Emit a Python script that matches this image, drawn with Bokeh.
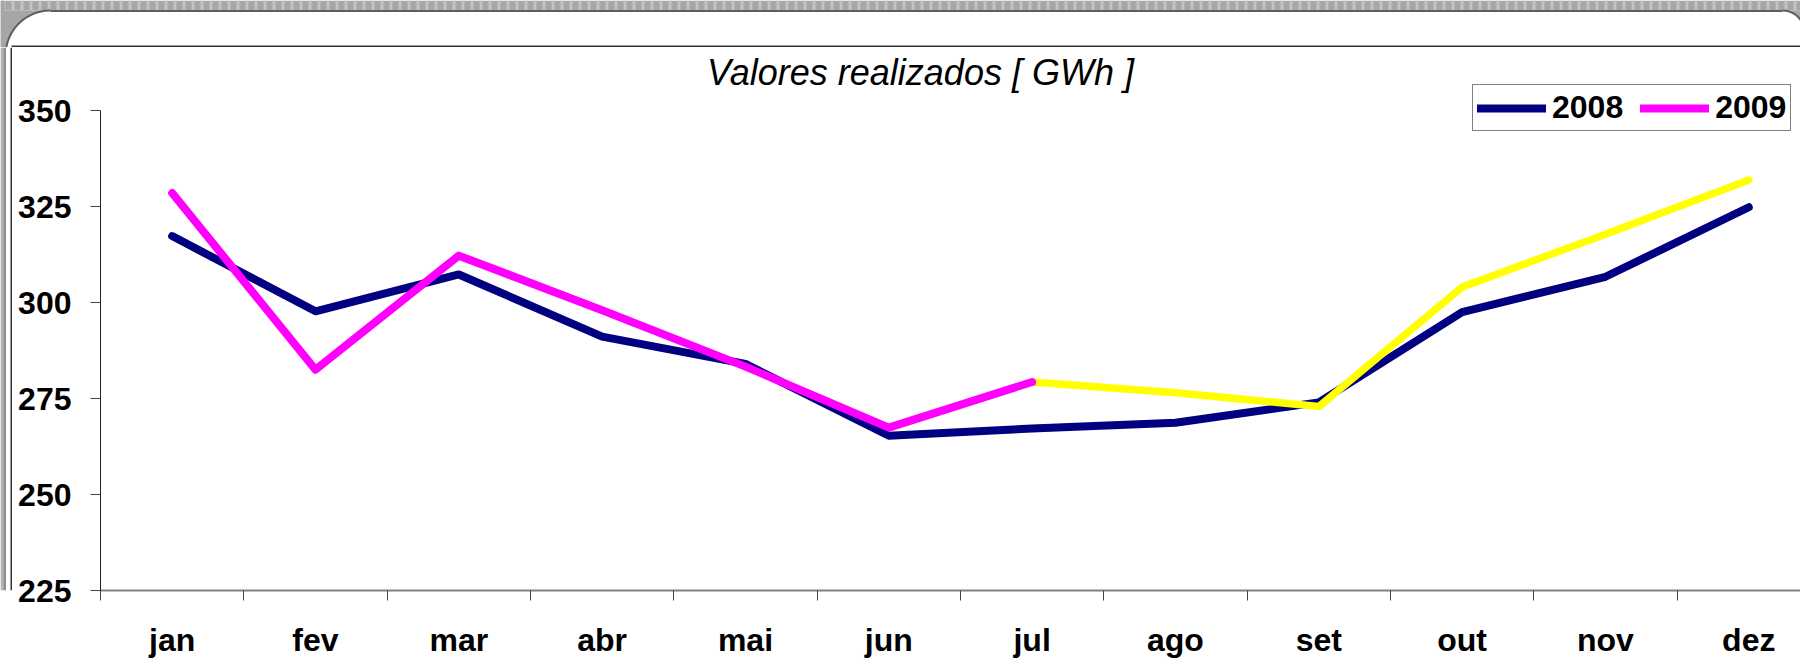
import numpy as np
from bokeh.plotting import figure
from bokeh.layouts import column, row
from bokeh.models import Range1d, FixedTicker, Legend, LegendItem, Label
from bokeh.embed import file_html
from bokeh.resources import INLINE

# ---------------- data ----------------
months = ["jan", "fev", "mar", "abr", "mai", "jun", "jul", "ago", "set", "out", "nov", "dez"]
v2008 = [317.3, 297.7, 307.3, 291.1, 284.0, 265.3, 267.2, 268.7, 274.0, 297.5, 306.7, 324.8]
v2009 = [328.5, 282.5, 312.2, 298.0, 283.3, 267.4, 279.3]
forecast_months = ["jul", "ago", "set", "out", "nov", "dez"]
forecast = [279.3, 276.5, 272.9, 304.0, 317.8, 331.9]
y_ticks = [225, 250, 275, 300, 325, 350]
title_text = "Valores realizados [ GWh ]"
series_names = ["2008", "2009"]

# ---------------- page layout (pixels) ----------------
PAGE_W, PAGE_H = 1800, 665
TOP_H = 47          # decorative top strip
SIDE_W = 12         # decorative left strip
MAIN_W, MAIN_H = PAGE_W - SIDE_W, PAGE_H - TOP_H
AXIS_X = 100        # page x of the y axis
AXIS_Y = 590        # page y of the x axis
Y350_Y = 110        # page y of the 350 tick
TITLE_BASE_Y = 72   # page y used to place the title baseline
PX_PER_MONTH = 143.33
FRAME_H = AXIS_Y - TOP_H
FONT = "Liberation Sans"
GRAY = "#a6a6a6"
GRAY_LIGHT = "#c2c2c2"


def deco_fig(w, h, xr, yr):
    f = figure(width=w, height=h, x_range=xr, y_range=yr, x_axis_type=None,
               y_axis_type=None, toolbar_location=None, output_backend="svg",
               min_border_left=0, min_border_right=0, min_border_top=0,
               min_border_bottom=0)
    f.outline_line_color = None
    f.background_fill_color = "white"
    f.border_fill_color = "white"
    f.grid.visible = False
    return f


# ---------------- top decorative strip ----------------
top = deco_fig(PAGE_W, TOP_H, Range1d(0, PAGE_W), Range1d(TOP_H, 0))
top.quad(left=0, right=PAGE_W, top=0, bottom=10, fill_color=GRAY, line_color=None)
sx = np.arange(0, PAGE_W, 9.0)
top.quad(left=sx + 2, right=sx + 5, top=0, bottom=10, fill_color=GRAY_LIGHT, line_color=None)
# rounded top-left corner
R, CX, CY = 45, 50, 55
th = np.linspace(0, np.pi / 2, 40)
arc_x = CX - R * np.cos(th)
arc_y = CY - R * np.sin(th)
top.patch(np.concatenate([[0], arc_x, [0]]), np.concatenate([[CY], arc_y, [10]]),
          fill_color=GRAY, line_color=None)
top.quad(left=0, right=4, top=0, bottom=TOP_H, fill_color=GRAY, line_color=None)
top.line(arc_x, arc_y, line_color="#5e5e5e", line_width=2)
# rounded top-right corner
R2, CX2, CY2 = 22, 1782, 32
th2 = np.linspace(np.pi / 2, 0, 30)
arc2_x = CX2 + R2 * np.cos(th2)
arc2_y = CY2 - R2 * np.sin(th2)
top.patch(np.concatenate([arc2_x, [PAGE_W + 10, PAGE_W + 10]]),
          np.concatenate([arc2_y, [CY2, 10]]), fill_color=GRAY, line_color=None)
top.line(arc2_x, arc2_y, line_color="#5e5e5e", line_width=2)
top.line([CX, CX2], [10.5, 10.5], line_color="#5e5e5e", line_width=2)
top.line([11, PAGE_W], [46, 46], line_color="#333333", line_width=2)

# ---------------- left decorative strip ----------------
side = deco_fig(SIDE_W, MAIN_H, Range1d(0, SIDE_W), Range1d(PAGE_H, TOP_H))
side.quad(left=0, right=3.5, top=TOP_H, bottom=PAGE_H, fill_color=GRAY, line_color=None)
side.quad(left=1, right=2, top=TOP_H, bottom=PAGE_H, fill_color=GRAY_LIGHT, line_color=None)
side.line([4.5, 4.5], [TOP_H, PAGE_H], line_color="#6a6a6a", line_width=1.5)
side.line([11, 11], [TOP_H, PAGE_H], line_color="#333333", line_width=2)

# ---------------- main chart ----------------
units_per_px = (y_ticks[-1] - y_ticks[0]) / (AXIS_Y - Y350_Y)
y_top = y_ticks[-1] + (Y350_Y - TOP_H) * units_per_px
frame_w = PAGE_W - AXIS_X

p = figure(width=MAIN_W, height=MAIN_H, output_backend="svg", toolbar_location=None,
           x_range=Range1d(-0.5, -0.5 + frame_w / PX_PER_MONTH),
           y_range=Range1d(y_ticks[0], y_top),
           min_border_left=AXIS_X - SIDE_W, min_border_right=0,
           min_border_top=0, min_border_bottom=MAIN_H - FRAME_H)
p.border_fill_color = "white"
p.background_fill_color = "white"
p.outline_line_color = None
p.xgrid.visible = False
p.ygrid.visible = False

x2008 = [months.index(m) for m in months]
x2009 = [months.index(m) for m in months[:len(v2009)]]
xf = [months.index(m) for m in forecast_months]

r2008 = p.line(x2008, v2008, line_color="#000080", line_width=8,
               line_cap="round", line_join="round")
rf = p.line(xf, forecast, line_color="#FFFF00", line_width=7.5,
            line_cap="round", line_join="round")
r2009 = p.line(x2009, v2009, line_color="#FF00FF", line_width=8,
               line_cap="round", line_join="round")

# x axis: labels at month centres, tick marks at month boundaries
xa = p.xaxis[0]
xa.ticker = FixedTicker(ticks=list(range(len(months))),
                        minor_ticks=[i - 0.5 for i in range(len(months) + 1)])
xa.major_label_overrides = {i: m for i, m in enumerate(months)}
xa.major_tick_line_color = None
xa.major_tick_out = 0
xa.major_tick_in = 0
xa.minor_tick_line_color = "#444444"
xa.minor_tick_line_width = 1
xa.minor_tick_out = 10
xa.minor_tick_in = 0
xa.axis_line_color = "#808080"
xa.axis_line_width = 2
xa.major_label_text_font = FONT
xa.major_label_text_font_style = "bold"
xa.major_label_text_font_size = "32px"
xa.major_label_text_color = "black"
xa.major_label_standoff = 21

ya = p.yaxis[0]
ya.ticker = FixedTicker(ticks=y_ticks)
ya.bounds = (y_ticks[0], y_ticks[-1])
ya.minor_tick_line_color = None
ya.major_tick_line_color = "#444444"
ya.major_tick_out = 10
ya.major_tick_in = 0
ya.axis_line_color = "#222222"
ya.axis_line_width = 1
ya.major_label_text_font = FONT
ya.major_label_text_font_style = "bold"
ya.major_label_text_font_size = "32px"
ya.major_label_text_color = "black"
ya.major_label_standoff = 19

# title (screen units from the frame's bottom-left corner)
title = Label(x=920 - AXIS_X, y=AXIS_Y - TITLE_BASE_Y, x_units="screen", y_units="screen",
              text=title_text, text_font=FONT, text_font_style="italic",
              text_font_size="36px", text_color="black",
              text_align="center", text_baseline="alphabetic")
p.add_layout(title)

legend = Legend(items=[LegendItem(label=series_names[0], renderers=[r2008]),
                       LegendItem(label=series_names[1], renderers=[r2009])],
                orientation="horizontal", location=(1472 - AXIS_X, AXIS_Y - 131),
                label_text_font=FONT, label_text_font_style="bold",
                label_text_font_size="32px", label_text_color="black",
                glyph_width=69, glyph_height=20, label_standoff=6,
                spacing=17, padding=4, margin=0,
                border_line_color="black", border_line_width=1.5,
                background_fill_color="white", background_fill_alpha=1)
p.add_layout(legend)

layout = column(top, row(side, p, spacing=0), spacing=0)
open("out.html", "w").write(file_html(layout, INLINE))
